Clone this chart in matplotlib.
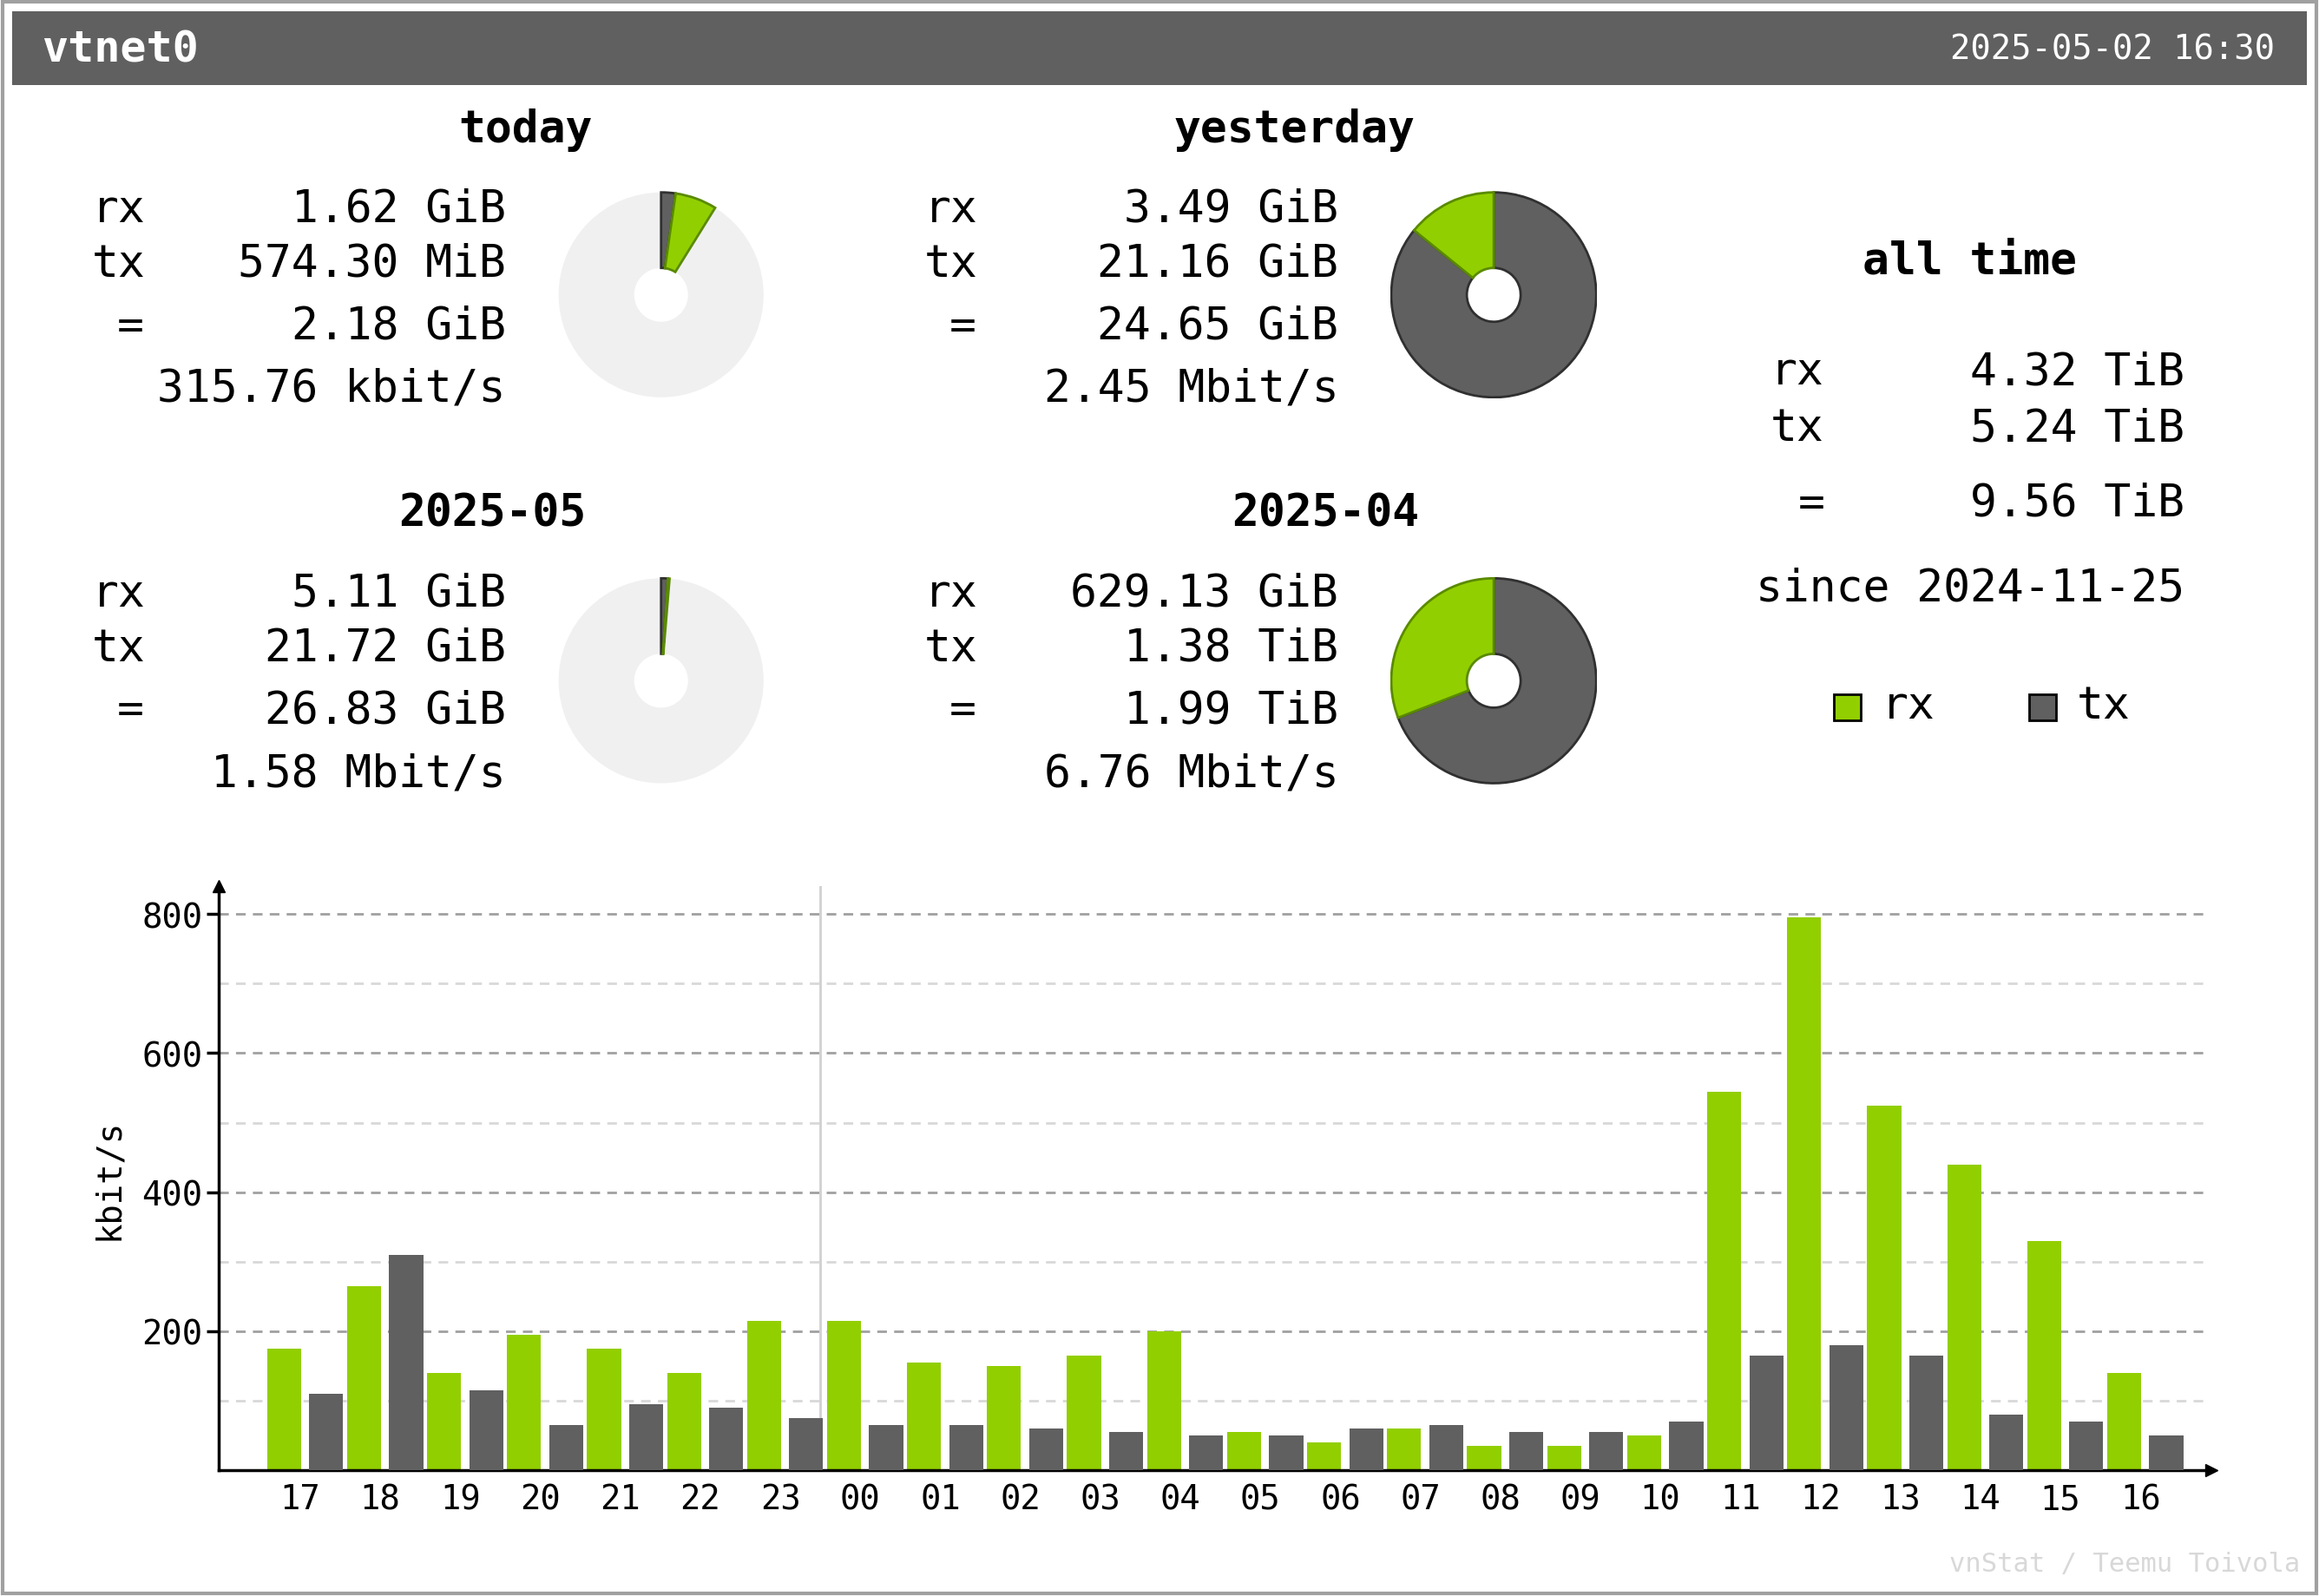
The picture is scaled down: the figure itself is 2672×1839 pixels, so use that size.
import matplotlib.pyplot as plt
from matplotlib.patches import Rectangle, Wedge, FancyArrow

hours = ['17', '18', '19', '20', '21', '22', '23', '00', '01', '02', '03', '04',
         '05', '06', '07', '08', '09', '10', '11', '12', '13', '14', '15', '16']
rx = [175, 265, 140, 195, 175, 140, 215, 215, 155, 150, 165, 200,
      55, 40, 60, 35, 35, 50, 545, 795, 525, 440, 330, 140]
tx = [110, 310, 115, 65, 95, 90, 75, 65, 65, 60, 55, 50,
      50, 60, 65, 55, 55, 70, 165, 180, 165, 80, 70, 50]

# pie fractions: (filled share of circle, rx share of filled)
pies = {
    'today': (2.18 / 24.65, 1.62 / 2.18),
    'yesterday': (1.0, 3.49 / 24.65),
    '2025-05': (26.83 / 2037.8, 5.11 / 26.83),
    '2025-04': (1.0, 629.13 / 2037.8),
}

GREEN = '#92cf00'
DARK = '#606060'
MONO = 'DejaVu Sans Mono'
W, H = 1568, 1080

fig = plt.figure(figsize=(26.72, 18.4), dpi=100)
fig.patch.set_facecolor('white')

def X(x):
    return x / W

def Y(y):
    return 1 - y / H

def txt(x, y, s, ha='left', size=37, **kw):
    fig.text(X(x), Y(y), s, ha=ha, va='center', fontsize=size, family=MONO, **kw)

fig.patches.append(Rectangle((X(2), Y(1078)), X(1564), 1076 / H, transform=fig.transFigure,
                             fill=False, edgecolor='#a0a0a0', lw=3))
fig.patches.append(Rectangle((X(8), Y(58)), X(1552), 50 / H, transform=fig.transFigure,
                             facecolor=DARK, edgecolor='none'))
txt(28, 34, 'vtnet0', color='white', weight='bold', size=36)
txt(1538, 34, '2025-05-02 16:30', ha='right', color='white', size=28)

blocks = [
    ('today', 355, 88, 62, 342, [142, 179, 221, 263],
     ['1.62 GiB', '574.30 MiB', '2.18 GiB', '315.76 kbit/s'], (447, 200)),
    ('yesterday', 875, 88, 625, 905, [142, 179, 221, 263],
     ['3.49 GiB', '21.16 GiB', '24.65 GiB', '2.45 Mbit/s'], (1010, 200)),
    ('2025-05', 333, 348, 62, 342, [402, 439, 481, 524],
     ['5.11 GiB', '21.72 GiB', '26.83 GiB', '1.58 Mbit/s'], (447, 461)),
    ('2025-04', 896, 348, 625, 905, [402, 439, 481, 524],
     ['629.13 GiB', '1.38 TiB', '1.99 TiB', '6.76 Mbit/s'], (1010, 461)),
]
for name, tx_, ty, lx, rx_, rows, vals, (px, py) in blocks:
    txt(tx_, ty, name, ha='center', weight='bold')
    txt(lx, rows[0], 'rx')
    txt(lx, rows[1], 'tx')
    txt(lx + 26, rows[2], '=', ha='center')
    for r, v in zip(rows, vals):
        txt(rx_, r, v, ha='right')
    r = 70
    ax = fig.add_axes([X(px - r), Y(py + r), 2 * r / W, 2 * r / H])
    ax.set_xlim(-1, 1)
    ax.set_ylim(-1, 1)
    ax.axis('off')
    inner = 0.26
    ax.add_patch(Wedge((0, 0), 0.99, 0, 360, width=0.99 - inner, facecolor='#f0f0f0', edgecolor='none'))
    filled, rxshare = pies[name]
    tot = 360 * filled
    txa = tot * (1 - rxshare)
    # tx clockwise from top, then rx
    ax.add_patch(Wedge((0, 0), 0.99, 90 - txa, 90, width=0.99 - inner,
                       facecolor=DARK, edgecolor='#303030', lw=2))
    ax.add_patch(Wedge((0, 0), 0.99, 90 - tot, 90 - txa, width=0.99 - inner,
                       facecolor=GREEN, edgecolor='#5a8a00', lw=2))

txt(1332, 177, 'all time', ha='center', weight='bold')
txt(1197, 252, 'rx')
txt(1197, 290, 'tx')
txt(1225, 341, '=', ha='center')
txt(1477, 252, '4.32 TiB', ha='right')
txt(1477, 290, '5.24 TiB', ha='right')
txt(1477, 341, '9.56 TiB', ha='right')
txt(1477, 398, 'since 2024-11-25', ha='right')
for bx, col, lab in [(1240, GREEN, 'rx'), (1372, DARK, 'tx')]:
    fig.patches.append(Rectangle((X(bx), Y(488)), 18 / W, 18 / H, transform=fig.transFigure,
                                 facecolor=col, edgecolor='black', lw=2))
    txt(bx + 32, 478, lab)

# bar chart
ax = fig.add_axes([X(148), Y(995), (1490 - 148) / W, (995 - 600) / H])
n = len(hours)
xs = list(range(n))
ax.set_xlim(-1.017, n - 0.21)
ax.set_ylim(0, 840)
for v in range(100, 801, 100):
    ax.axhline(v, color='#a0a0a0' if v % 200 == 0 else '#d8d8d8', ls=(0, (4, 3)), lw=2, zorder=0)
ax.axvline(-0.5 + 7, color='#d0d0d0', lw=2, zorder=0)
bw = 23 / 54.1
ax.bar([x - 11 / 54.1 for x in xs], rx, width=bw, color=GREEN, zorder=2)
ax.bar([x + 6 / 54.1 + bw / 2 - bw / 2 for x in xs], tx, width=bw, color=DARK, zorder=3,
       align='edge')
for s in ['top', 'right']:
    ax.spines[s].set_visible(False)
ax.spines['left'].set_linewidth(2.5)
ax.spines['bottom'].set_linewidth(2.5)
ax.set_xticks(xs)
ax.set_xticklabels(hours, family=MONO, fontsize=28)
ax.tick_params(axis='x', length=0, pad=10)
ax.set_yticks([200, 400, 600, 800])
ax.set_yticklabels(['200', '400', '600', '800'], family=MONO, fontsize=28)
ax.tick_params(axis='y', length=10, width=2.5, direction='out')
ax.set_ylabel('kbit/s', family=MONO, fontsize=28, labelpad=14)
ax.plot(0, 1, '^k', transform=ax.transAxes, clip_on=False, ms=10)
ax.plot(1.004, 0, '>k', transform=ax.transAxes, clip_on=False, ms=10)

txt(1555, 1058, 'vnStat / Teemu Toivola', ha='right', size=22, color='#d8d8d8')

fig.savefig('out.png', dpi=100)
